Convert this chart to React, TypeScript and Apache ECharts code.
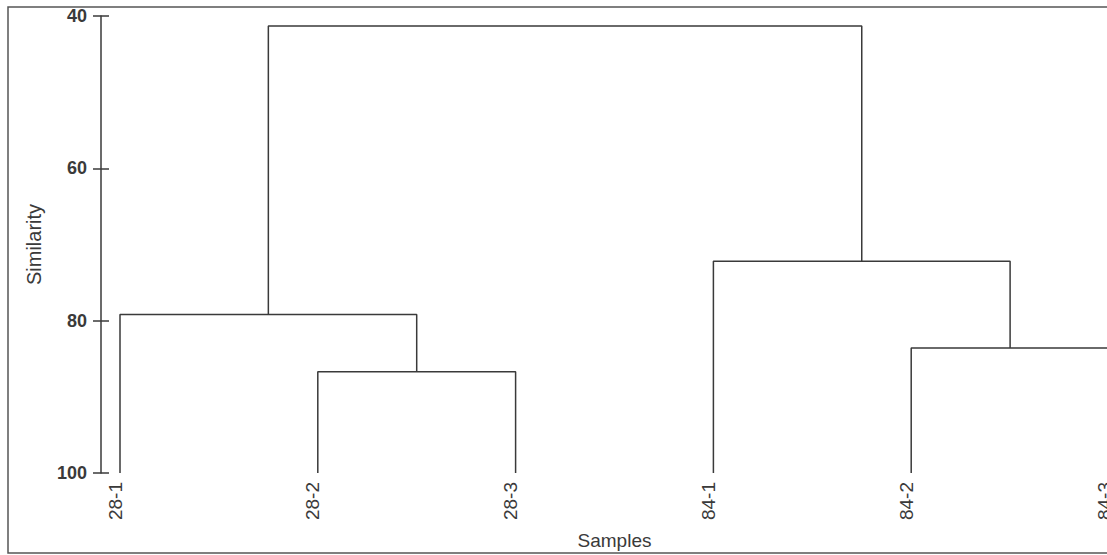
import React, { useEffect, useRef } from "react";
import * as echarts from "echarts";

// Leaves of the dendrogram, in display order
const leaves: string[] = ["28-1", "28-2", "28-3", "84-1", "84-2", "84-3"];
// Merges: [leftNode, rightNode, similarity]; new node ids start at leaves.length
const mergeLeft: number[] = [1, 0, 4, 3, 7];
const mergeRight: number[] = [2, 6, 5, 8, 9];
const mergeHeight: number[] = [86.7, 79.2, 83.6, 72.2, 41.3];
const leafHeight = 100;
const yTicks: number[] = [40, 60, 80, 100];

const LINE = "#3a3a3a";
const TEXT = "#3a3a3a";
const FONT = "'Liberation Sans', Arial, sans-serif";

function buildSeries() {
  const nodeX: number[] = leaves.map((_, i) => i);
  const nodeH: number[] = leaves.map(() => leafHeight);
  const series: any[] = [];
  for (let k = 0; k < mergeHeight.length; k++) {
    const l = mergeLeft[k];
    const r = mergeRight[k];
    const h = mergeHeight[k];
    series.push({
      type: "line",
      yAxisIndex: 0,
      data: [
        [nodeX[l], nodeH[l]],
        [nodeX[l], h],
        [nodeX[r], h],
        [nodeX[r], nodeH[r]],
      ],
      showSymbol: false,
      symbol: "none",
      lineStyle: { color: LINE, width: 1.5 },
      clip: false,
      silent: true,
    });
    nodeX.push((nodeX[l] + nodeX[r]) / 2);
    nodeH.push(h);
  }
  return series;
}

export default function App() {
  const ref = useRef<HTMLDivElement>(null);
  useEffect(() => {
    if (!ref.current) return;
    const chart = echarts.init(ref.current, null, { renderer: "svg" });
    const yCommon = {
      type: "value",
      inverse: true,
      min: yTicks[0],
      max: yTicks[yTicks.length - 1],
      interval: 20,
      position: "left",
      offset: 19,
      splitLine: { show: false },
    };
    chart.setOption({
      animation: false,
      backgroundColor: "#ffffff",
      grid: { left: 120, right: 6, top: 16, bottom: 82, containLabel: false },
      graphic: [
        {
          type: "rect",
          shape: { x: 8, y: 7, width: 1120, height: 546 },
          style: { fill: "none", stroke: "#555", lineWidth: 1.5 },
          silent: true,
        },
      ],
      xAxis: {
        type: "value",
        min: 0,
        max: leaves.length - 1,
        interval: 1,
        axisLine: { show: false, onZero: false },
        axisTick: { show: false },
        splitLine: { show: false },
        axisLabel: {
          rotate: 90,
          margin: 9,
          fontSize: 19,
          fontFamily: FONT,
          color: TEXT,
          verticalAlign: "bottom",
          lineHeight: 10,
          showMinLabel: true,
          showMaxLabel: true,
          formatter: (v: number) => leaves[Math.round(v)] ?? "",
        },
        name: "Samples",
        nameLocation: "middle",
        nameGap: 58,
        nameTextStyle: { fontSize: 19, fontFamily: FONT, color: TEXT },
      },
      yAxis: [
        {
          ...yCommon,
          axisLine: { show: true, onZero: false, lineStyle: { color: LINE, width: 1.5 } },
          axisTick: { show: true, length: 8, lineStyle: { color: LINE, width: 1.5 } },
          axisLabel: {
            margin: 14,
            fontSize: 18,
            fontWeight: "bold",
            fontFamily: FONT,
            color: TEXT,
          },
          name: "Similarity",
          nameLocation: "middle",
          nameGap: 57,
          nameTextStyle: { fontSize: 20, fontFamily: FONT, color: TEXT },
        },
        {
          ...yCommon,
          axisLine: { show: false, onZero: false },
          axisTick: { show: true, inside: true, length: 8, lineStyle: { color: LINE, width: 1.5 } },
          axisLabel: { show: false },
        },
      ],
      series: buildSeries(),
    });
    return () => chart.dispose();
  }, []);
  return (
    <div
      style={{
        position: "absolute",
        left: 0,
        top: 0,
        width: 1107,
        height: 555,
        overflow: "hidden",
        background: "#fff",
      }}
    >
      <div ref={ref} style={{ width: 1115, height: 555 }} />
    </div>
  );
}
